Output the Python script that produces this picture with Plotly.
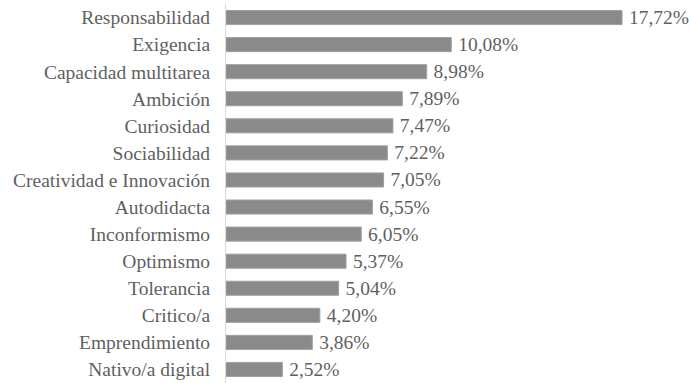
import plotly.graph_objects as go

categories = ["Responsabilidad", "Exigencia", "Capacidad multitarea", "Ambición",
              "Curiosidad", "Sociabilidad", "Creatividad e Innovación", "Autodidacta",
              "Inconformismo", "Optimismo", "Tolerancia", "Critico/a",
              "Emprendimiento", "Nativo/a digital"]
values = [17.72, 10.08, 8.98, 7.89, 7.47, 7.22, 7.05, 6.55, 6.05, 5.37, 5.04, 4.20, 3.86, 2.52]
labels = ["\u2009" + f"{v:.2f}%".replace(".", ",") for v in values]

font_family = "Liberation Serif"
text_color = "#5f5f5f"

fig = go.Figure(go.Bar(
    x=values,
    y=categories,
    orientation="h",
    marker=dict(color="#8a8a8a", line=dict(color="#a0a0a0", width=1)),
    text=labels,
    textposition="outside",
    constraintext="none",
    textfont=dict(family=font_family, size=19.5, color=text_color),
    cliponaxis=False,
    width=0.52,
))

fig.update_layout(
    width=689, height=383,
    margin=dict(l=226, r=16, t=4, b=0),
    paper_bgcolor="white", plot_bgcolor="white",
    showlegend=False,
    font=dict(family=font_family),
    xaxis=dict(range=[0, 20], visible=False, fixedrange=True),
    yaxis=dict(
        autorange="reversed",
        showline=True, linecolor="#d9d9d9", linewidth=1,
        ticks="", ticklabelstandoff=11,
        tickfont=dict(family=font_family, size=19.5, color=text_color),
        showgrid=False,
    ),
)

fig.write_html("out.html")
